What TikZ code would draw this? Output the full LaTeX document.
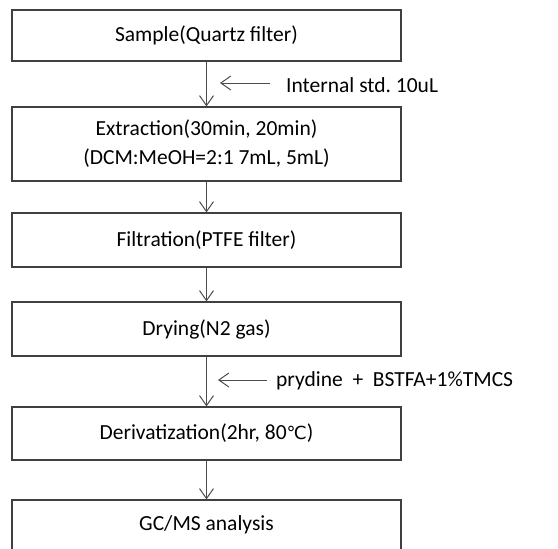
\documentclass[tikz,border=0pt]{standalone}
\usepackage{fontspec}
\setmainfont{Carlito}
\newfontfamily\degfont{DejaVu Sans}
\usetikzlibrary{arrows.meta}
\frenchspacing

\begin{document}
\begin{tikzpicture}[x=1pt,y=-1pt,
		stepbox/.style={draw=black!75, line width=1.1pt, minimum width=389pt, inner sep=0pt, align=center, font=\fontsize{21.5}{29}\selectfont},
		flow/.style={draw=black!70, line width=1pt, -{Straight Barb[length=10pt,width=14pt]}},
		note/.style={anchor=west, inner sep=0pt, font=\fontsize{21.5}{24}\selectfont}]
					\useasboundingbox (0,0) rectangle (558,549);
					\clip (0,0) rectangle (558,549);
					\node[stepbox, minimum height=51pt] (sample) at (206.5,35.5) {Sample(Quartz filter)};
					\node[stepbox, minimum height=74pt] (extract) at (206.5,144) {Extraction(30min, 20min)\\(DCM:MeOH=2:1 7mL, 5mL)};
					\node[stepbox, minimum height=54pt] (filter) at (206.5,240) {Filtration(PTFE filter)};
					\node[stepbox, minimum height=54pt] (dry) at (206.5,329) {Drying(N2 gas)};
					\node[stepbox, minimum height=53pt] (deriv) at (206.5,433.5) {Derivatization(2hr, 80{\degfont\fontsize{18}{20}\selectfont ℃})};
					\node[stepbox, minimum height=54pt, text depth=0pt] (gcms) at (206.5,527) {\raisebox{7pt}{GC/MS analysis}};
					
					\draw[flow] (sample) -- (extract);
					\draw[flow] (extract) -- (filter);
					\draw[flow] (filter) -- (dry);
					\draw[flow] (dry) -- (deriv);
					\draw[flow] (deriv) -- (gcms);
					
					% reagents added on the side
					\node[note] (std) at (286,85) {Internal std. 10uL};
					\coordinate (std-in) at (220,83);
					\coordinate (std-out) at (270,83);
					\draw[flow] (std-out) -- (std-in);
					
					\node[note] (reag) at (276,381) {prydine\ \ +\ \ BSTFA+1\%TMCS};
					\coordinate (reag-in) at (218,380);
					\coordinate (reag-out) at (267,380);
					\draw[flow] (reag-out) -- (reag-in);
				\end{tikzpicture}
\end{document}
